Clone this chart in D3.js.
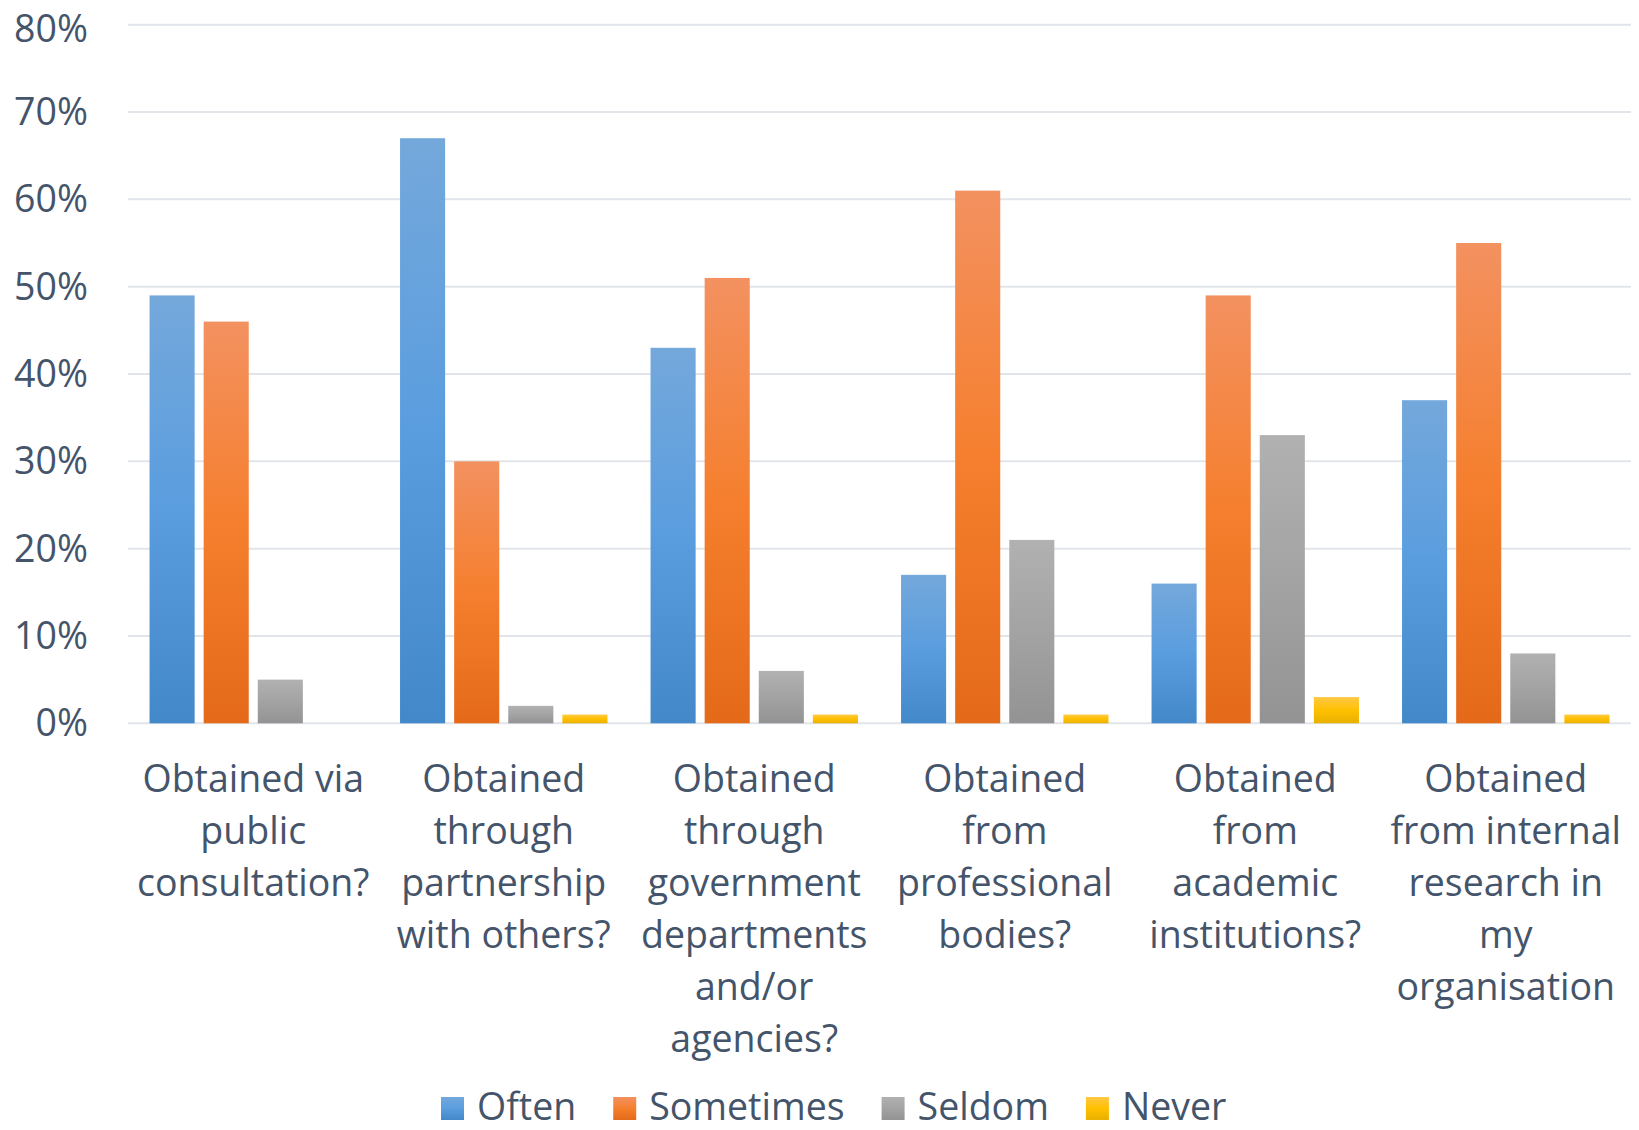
<!DOCTYPE html>
<html>
<head>
<meta charset="utf-8">
<script src="https://cdn.jsdelivr.net/npm/d3@7/dist/d3.min.js"></script>
<style>
  html, body { margin: 0; padding: 0; background: #ffffff; }
  svg { display: block; }
  text { font-family: "Open Sans", "Noto Sans", sans-serif; fill: #44546A; }
</style>
</head>
<body>
<svg id="chart" width="1639" height="1130"></svg>
<script>
// Survey categories (each label split into its display lines)
const categories = [
  ["Obtained via", "public", "consultation?"],
  ["Obtained", "through", "partnership", "with others?"],
  ["Obtained", "through", "government", "departments", "and/or", "agencies?"],
  ["Obtained", "from", "professional", "bodies?"],
  ["Obtained", "from", "academic", "institutions?"],
  ["Obtained", "from internal", "research in", "my", "organisation"]
];

const seriesNames = ["Often", "Sometimes", "Seldom", "Never"];

// Share of respondents (%) per category
const often     = [49, 67, 43, 17, 16, 37];
const sometimes = [46, 30, 51, 61, 49, 55];
const seldom    = [5, 2, 6, 21, 33, 8];
const never     = [0, 1, 1, 1, 3, 1];

const yTicks = [0, 10, 20, 30, 40, 50, 60, 70, 80];

const seriesValues = [often, sometimes, seldom, never];

// Gradient stops per series (top, middle, bottom)
const gradients = [
  ["#74a8db", "#5a9ddf", "#4388c8"],
  ["#f39160", "#f57f2e", "#e46a19"],
  ["#b1b1b1", "#a3a3a3", "#939393"],
  ["#ffc845", "#ffc000", "#e8b000"]
];

const FONT_SIZE = 37.5;

const svg = d3.select("#chart");
const margin = { left: 128, right: 8 };
const W = 1639;

const catKeys = categories.map((c, i) => i);

const x0 = d3.scaleBand()
  .domain(catKeys)
  .range([margin.left, W - margin.right])
  .paddingInner(0.172)
  .paddingOuter(0.086);

const x1 = d3.scaleBand()
  .domain(seriesNames)
  .range([0, x0.bandwidth()])
  .paddingInner(1 / 6)
  .paddingOuter(0);

const y = d3.scaleLinear()
  .domain([0, 80])
  .range([723.3, 24.7]);

// Gradient definitions
const defs = svg.append("defs");
seriesNames.forEach((name, i) => {
  const g = defs.append("linearGradient")
    .attr("id", "grad" + i)
    .attr("x1", 0).attr("y1", 0).attr("x2", 0).attr("y2", 1);
  g.append("stop").attr("offset", "0%").attr("stop-color", gradients[i][0]);
  g.append("stop").attr("offset", "50%").attr("stop-color", gradients[i][1]);
  g.append("stop").attr("offset", "100%").attr("stop-color", gradients[i][2]);
});

// Horizontal gridlines
svg.append("g")
  .selectAll("line")
  .data(yTicks)
  .join("line")
  .attr("x1", margin.left)
  .attr("x2", W - margin.right)
  .attr("y1", d => y(d))
  .attr("y2", d => y(d))
  .attr("stroke", "#e1e5ea")
  .attr("stroke-width", 2);

// Y axis labels
const yAxis = d3.axisLeft(y)
  .tickValues(yTicks)
  .tickFormat(d => d + "%")
  .tickSize(0)
  .tickPadding(0);

const yg = svg.append("g")
  .attr("transform", "translate(88,0)")
  .call(yAxis);
yg.select(".domain").remove();
yg.selectAll("text")
  .attr("font-size", FONT_SIZE)
  .attr("font-family", "Open Sans, Noto Sans, sans-serif")
  .attr("fill", "#44546A")
  .attr("dy", "0.33em");
// keep the topmost label fully inside the canvas
yg.selectAll(".tick")
  .filter(d => d === 80)
  .select("text")
  .attr("dy", "0.44em");

// Bars
const groups = svg.append("g")
  .selectAll("g")
  .data(catKeys)
  .join("g")
  .attr("transform", d => `translate(${x0(d)},0)`);

groups.selectAll("rect")
  .data(ci => seriesNames.map((name, si) => ({ name, si, value: seriesValues[si][ci] })))
  .join("rect")
  .filter(d => d.value > 0)
  .attr("x", d => x1(d.name))
  .attr("width", x1.bandwidth())
  .attr("y", d => y(d.value))
  .attr("height", d => y(0) - y(d.value))
  .attr("fill", d => `url(#grad${d.si})`);

// Category labels
const labelG = svg.append("g");
catKeys.forEach(ci => {
  const cx = x0(ci) + x0.bandwidth() / 2;
  const t = labelG.append("text")
    .attr("x", cx)
    .attr("y", 792)
    .attr("text-anchor", "middle")
    .attr("font-size", FONT_SIZE);
  categories[ci].forEach((line, li) => {
    t.append("tspan")
      .attr("x", cx)
      .attr("dy", li === 0 ? 0 : 52)
      .text(line);
  });
});

// Legend
const legend = svg.append("g");
let lx = 441;
seriesNames.forEach((name, i) => {
  legend.append("rect")
    .attr("x", lx)
    .attr("y", 1097)
    .attr("width", 23)
    .attr("height", 23)
    .attr("fill", `url(#grad${i})`);
  const t = legend.append("text")
    .attr("x", lx + 36)
    .attr("y", 1119.5)
    .attr("font-size", FONT_SIZE)
    .text(name);
  lx += 36 + t.node().getComputedTextLength() + 37;
});
</script>
</body>
</html>
